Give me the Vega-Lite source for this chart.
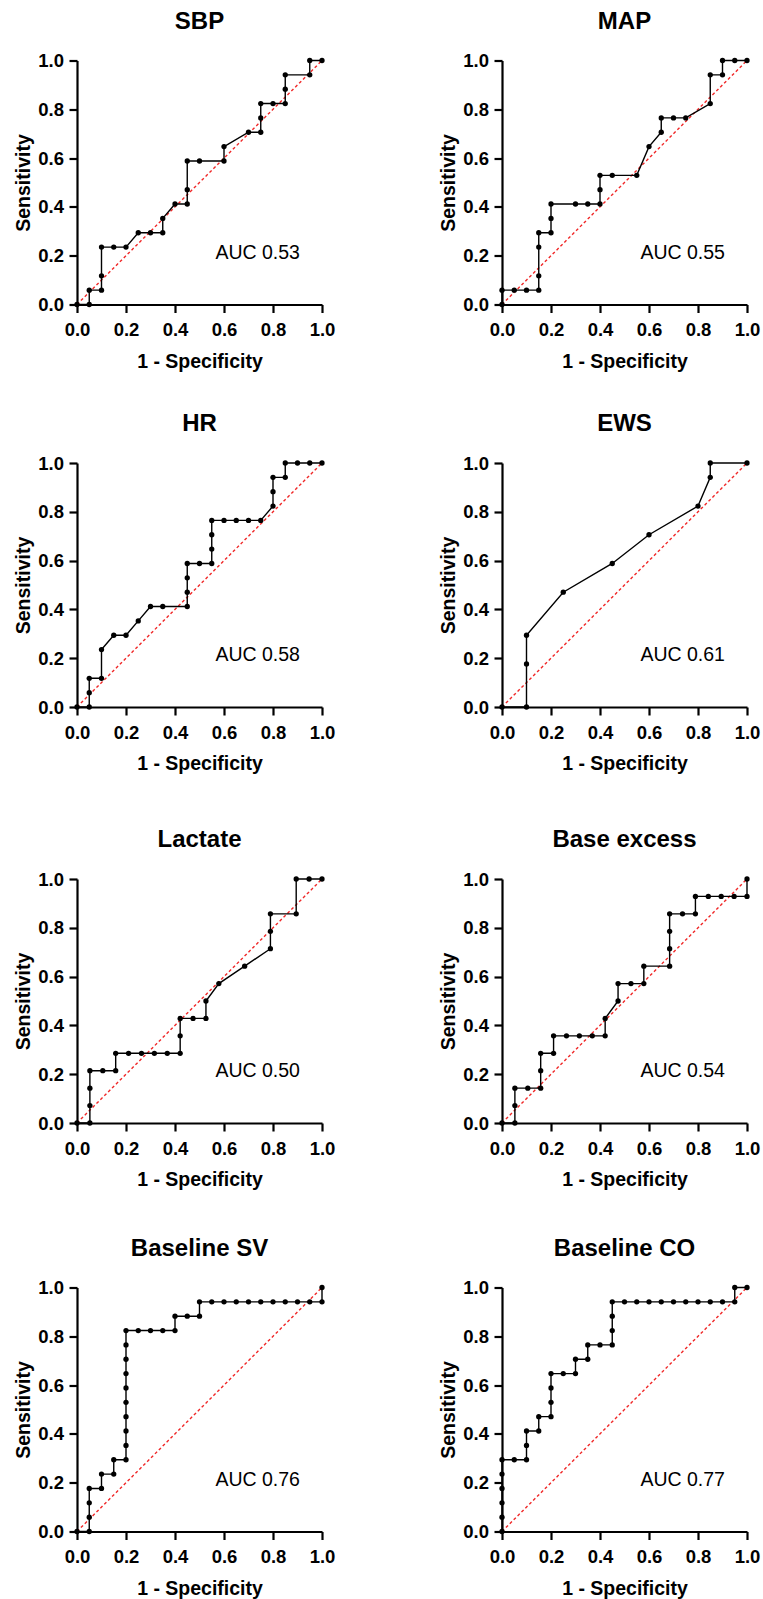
{
"$schema": "https://vega.github.io/schema/vega-lite/v6.json",
"background": "white",
"padding": {"left": 13, "top": 9.5, "right": 5, "bottom": 4},
"datasets": {
"diag": [{"x": 0, "y": 0}, {"x": 1, "y": 1}],
"auc": [
{"p": "SBP", "x": 0.565, "y": 0.213, "label": "AUC 0.53"},
{"p": "MAP", "x": 0.565, "y": 0.213, "label": "AUC 0.55"},
{"p": "HR", "x": 0.565, "y": 0.213, "label": "AUC 0.58"},
{"p": "EWS", "x": 0.565, "y": 0.213, "label": "AUC 0.61"},
{"p": "Lactate", "x": 0.565, "y": 0.213, "label": "AUC 0.50"},
{"p": "Base excess", "x": 0.565, "y": 0.213, "label": "AUC 0.54"},
{"p": "Baseline SV", "x": 0.565, "y": 0.213, "label": "AUC 0.76"},
{"p": "Baseline CO", "x": 0.565, "y": 0.213, "label": "AUC 0.77"}
],
"roc": [
{"p":"SBP","x":0,"y":0},{"p":"SBP","x":0.05,"y":0},{"p":"SBP","x":0.05,"y":0.0588},{"p":"SBP","x":0.1,"y":0.0588},{"p":"SBP","x":0.1,"y":0.1176},{"p":"SBP","x":0.1,"y":0.2353},{"p":"SBP","x":0.15,"y":0.2353},{"p":"SBP","x":0.2,"y":0.2353},{"p":"SBP","x":0.25,"y":0.2941},{"p":"SBP","x":0.3,"y":0.2941},{"p":"SBP","x":0.35,"y":0.2941},{"p":"SBP","x":0.35,"y":0.3529},{"p":"SBP","x":0.4,"y":0.4118},{"p":"SBP","x":0.45,"y":0.4118},{"p":"SBP","x":0.45,"y":0.4706},{"p":"SBP","x":0.45,"y":0.5882},{"p":"SBP","x":0.5,"y":0.5882},{"p":"SBP","x":0.6,"y":0.5882},{"p":"SBP","x":0.6,"y":0.6471},{"p":"SBP","x":0.7,"y":0.7059},{"p":"SBP","x":0.75,"y":0.7059},{"p":"SBP","x":0.75,"y":0.7647},{"p":"SBP","x":0.75,"y":0.8235},{"p":"SBP","x":0.8,"y":0.8235},{"p":"SBP","x":0.85,"y":0.8235},{"p":"SBP","x":0.85,"y":0.8824},{"p":"SBP","x":0.85,"y":0.9412},{"p":"SBP","x":0.95,"y":0.9412},{"p":"SBP","x":0.95,"y":1},{"p":"SBP","x":1,"y":1},
{"p":"MAP","x":0,"y":0},{"p":"MAP","x":0,"y":0.0588},{"p":"MAP","x":0.05,"y":0.0588},{"p":"MAP","x":0.1,"y":0.0588},{"p":"MAP","x":0.15,"y":0.0588},{"p":"MAP","x":0.15,"y":0.1176},{"p":"MAP","x":0.15,"y":0.2353},{"p":"MAP","x":0.15,"y":0.2941},{"p":"MAP","x":0.2,"y":0.2941},{"p":"MAP","x":0.2,"y":0.3529},{"p":"MAP","x":0.2,"y":0.4118},{"p":"MAP","x":0.3,"y":0.4118},{"p":"MAP","x":0.35,"y":0.4118},{"p":"MAP","x":0.4,"y":0.4118},{"p":"MAP","x":0.4,"y":0.4706},{"p":"MAP","x":0.4,"y":0.5294},{"p":"MAP","x":0.45,"y":0.5294},{"p":"MAP","x":0.55,"y":0.5294},{"p":"MAP","x":0.6,"y":0.6471},{"p":"MAP","x":0.65,"y":0.7059},{"p":"MAP","x":0.65,"y":0.7647},{"p":"MAP","x":0.7,"y":0.7647},{"p":"MAP","x":0.75,"y":0.7647},{"p":"MAP","x":0.85,"y":0.8235},{"p":"MAP","x":0.85,"y":0.9412},{"p":"MAP","x":0.9,"y":0.9412},{"p":"MAP","x":0.9,"y":1},{"p":"MAP","x":0.95,"y":1},{"p":"MAP","x":1,"y":1},
{"p":"HR","x":0,"y":0},{"p":"HR","x":0.05,"y":0},{"p":"HR","x":0.05,"y":0.0588},{"p":"HR","x":0.05,"y":0.1176},{"p":"HR","x":0.1,"y":0.1176},{"p":"HR","x":0.1,"y":0.2353},{"p":"HR","x":0.15,"y":0.2941},{"p":"HR","x":0.2,"y":0.2941},{"p":"HR","x":0.25,"y":0.3529},{"p":"HR","x":0.3,"y":0.4118},{"p":"HR","x":0.35,"y":0.4118},{"p":"HR","x":0.45,"y":0.4118},{"p":"HR","x":0.45,"y":0.4706},{"p":"HR","x":0.45,"y":0.5294},{"p":"HR","x":0.45,"y":0.5882},{"p":"HR","x":0.5,"y":0.5882},{"p":"HR","x":0.55,"y":0.5882},{"p":"HR","x":0.55,"y":0.6471},{"p":"HR","x":0.55,"y":0.7059},{"p":"HR","x":0.55,"y":0.7647},{"p":"HR","x":0.6,"y":0.7647},{"p":"HR","x":0.65,"y":0.7647},{"p":"HR","x":0.7,"y":0.7647},{"p":"HR","x":0.75,"y":0.7647},{"p":"HR","x":0.8,"y":0.8235},{"p":"HR","x":0.8,"y":0.8824},{"p":"HR","x":0.8,"y":0.9412},{"p":"HR","x":0.85,"y":0.9412},{"p":"HR","x":0.85,"y":1},{"p":"HR","x":0.9,"y":1},{"p":"HR","x":0.95,"y":1},{"p":"HR","x":1,"y":1},
{"p":"EWS","x":0,"y":0},{"p":"EWS","x":0.1,"y":0},{"p":"EWS","x":0.1,"y":0.1765},{"p":"EWS","x":0.1,"y":0.2941},{"p":"EWS","x":0.25,"y":0.4706},{"p":"EWS","x":0.45,"y":0.5882},{"p":"EWS","x":0.6,"y":0.7059},{"p":"EWS","x":0.8,"y":0.8235},{"p":"EWS","x":0.85,"y":0.9412},{"p":"EWS","x":0.85,"y":1},{"p":"EWS","x":1,"y":1},
{"p":"Lactate","x":0,"y":0},{"p":"Lactate","x":0.0526,"y":0},{"p":"Lactate","x":0.0526,"y":0.0714},{"p":"Lactate","x":0.0526,"y":0.1429},{"p":"Lactate","x":0.0526,"y":0.2143},{"p":"Lactate","x":0.1053,"y":0.2143},{"p":"Lactate","x":0.1579,"y":0.2143},{"p":"Lactate","x":0.1579,"y":0.2857},{"p":"Lactate","x":0.2105,"y":0.2857},{"p":"Lactate","x":0.2632,"y":0.2857},{"p":"Lactate","x":0.3158,"y":0.2857},{"p":"Lactate","x":0.3684,"y":0.2857},{"p":"Lactate","x":0.4211,"y":0.2857},{"p":"Lactate","x":0.4211,"y":0.3571},{"p":"Lactate","x":0.4211,"y":0.4286},{"p":"Lactate","x":0.4737,"y":0.4286},{"p":"Lactate","x":0.5263,"y":0.4286},{"p":"Lactate","x":0.5263,"y":0.5},{"p":"Lactate","x":0.5789,"y":0.5714},{"p":"Lactate","x":0.6842,"y":0.6429},{"p":"Lactate","x":0.7895,"y":0.7143},{"p":"Lactate","x":0.7895,"y":0.7857},{"p":"Lactate","x":0.7895,"y":0.8571},{"p":"Lactate","x":0.8947,"y":0.8571},{"p":"Lactate","x":0.8947,"y":1},{"p":"Lactate","x":0.9474,"y":1},{"p":"Lactate","x":1,"y":1},
{"p":"Base excess","x":0,"y":0},{"p":"Base excess","x":0.0526,"y":0},{"p":"Base excess","x":0.0526,"y":0.0714},{"p":"Base excess","x":0.0526,"y":0.1429},{"p":"Base excess","x":0.1053,"y":0.1429},{"p":"Base excess","x":0.1579,"y":0.1429},{"p":"Base excess","x":0.1579,"y":0.2143},{"p":"Base excess","x":0.1579,"y":0.2857},{"p":"Base excess","x":0.2105,"y":0.2857},{"p":"Base excess","x":0.2105,"y":0.3571},{"p":"Base excess","x":0.2632,"y":0.3571},{"p":"Base excess","x":0.3158,"y":0.3571},{"p":"Base excess","x":0.3684,"y":0.3571},{"p":"Base excess","x":0.4211,"y":0.3571},{"p":"Base excess","x":0.4211,"y":0.4286},{"p":"Base excess","x":0.4737,"y":0.5},{"p":"Base excess","x":0.4737,"y":0.5714},{"p":"Base excess","x":0.5263,"y":0.5714},{"p":"Base excess","x":0.5789,"y":0.5714},{"p":"Base excess","x":0.5789,"y":0.6429},{"p":"Base excess","x":0.6842,"y":0.6429},{"p":"Base excess","x":0.6842,"y":0.7143},{"p":"Base excess","x":0.6842,"y":0.7857},{"p":"Base excess","x":0.6842,"y":0.8571},{"p":"Base excess","x":0.7368,"y":0.8571},{"p":"Base excess","x":0.7895,"y":0.8571},{"p":"Base excess","x":0.7895,"y":0.9286},{"p":"Base excess","x":0.8421,"y":0.9286},{"p":"Base excess","x":0.8947,"y":0.9286},{"p":"Base excess","x":0.9474,"y":0.9286},{"p":"Base excess","x":1,"y":0.9286},{"p":"Base excess","x":1,"y":1},
{"p":"Baseline SV","x":0,"y":0},{"p":"Baseline SV","x":0.05,"y":0},{"p":"Baseline SV","x":0.05,"y":0.0588},{"p":"Baseline SV","x":0.05,"y":0.1176},{"p":"Baseline SV","x":0.05,"y":0.1765},{"p":"Baseline SV","x":0.1,"y":0.1765},{"p":"Baseline SV","x":0.1,"y":0.2353},{"p":"Baseline SV","x":0.15,"y":0.2353},{"p":"Baseline SV","x":0.15,"y":0.2941},{"p":"Baseline SV","x":0.2,"y":0.2941},{"p":"Baseline SV","x":0.2,"y":0.3529},{"p":"Baseline SV","x":0.2,"y":0.4118},{"p":"Baseline SV","x":0.2,"y":0.4706},{"p":"Baseline SV","x":0.2,"y":0.5294},{"p":"Baseline SV","x":0.2,"y":0.5882},{"p":"Baseline SV","x":0.2,"y":0.6471},{"p":"Baseline SV","x":0.2,"y":0.7059},{"p":"Baseline SV","x":0.2,"y":0.7647},{"p":"Baseline SV","x":0.2,"y":0.8235},{"p":"Baseline SV","x":0.25,"y":0.8235},{"p":"Baseline SV","x":0.3,"y":0.8235},{"p":"Baseline SV","x":0.35,"y":0.8235},{"p":"Baseline SV","x":0.4,"y":0.8235},{"p":"Baseline SV","x":0.4,"y":0.8824},{"p":"Baseline SV","x":0.45,"y":0.8824},{"p":"Baseline SV","x":0.5,"y":0.8824},{"p":"Baseline SV","x":0.5,"y":0.9412},{"p":"Baseline SV","x":0.55,"y":0.9412},{"p":"Baseline SV","x":0.6,"y":0.9412},{"p":"Baseline SV","x":0.65,"y":0.9412},{"p":"Baseline SV","x":0.7,"y":0.9412},{"p":"Baseline SV","x":0.75,"y":0.9412},{"p":"Baseline SV","x":0.8,"y":0.9412},{"p":"Baseline SV","x":0.85,"y":0.9412},{"p":"Baseline SV","x":0.9,"y":0.9412},{"p":"Baseline SV","x":0.95,"y":0.9412},{"p":"Baseline SV","x":1,"y":0.9412},{"p":"Baseline SV","x":1,"y":1},
{"p":"Baseline CO","x":0,"y":0},{"p":"Baseline CO","x":0,"y":0.0588},{"p":"Baseline CO","x":0,"y":0.1176},{"p":"Baseline CO","x":0,"y":0.1765},{"p":"Baseline CO","x":0,"y":0.2353},{"p":"Baseline CO","x":0,"y":0.2941},{"p":"Baseline CO","x":0.05,"y":0.2941},{"p":"Baseline CO","x":0.1,"y":0.2941},{"p":"Baseline CO","x":0.1,"y":0.3529},{"p":"Baseline CO","x":0.1,"y":0.4118},{"p":"Baseline CO","x":0.15,"y":0.4118},{"p":"Baseline CO","x":0.15,"y":0.4706},{"p":"Baseline CO","x":0.2,"y":0.4706},{"p":"Baseline CO","x":0.2,"y":0.5294},{"p":"Baseline CO","x":0.2,"y":0.5882},{"p":"Baseline CO","x":0.2,"y":0.6471},{"p":"Baseline CO","x":0.25,"y":0.6471},{"p":"Baseline CO","x":0.3,"y":0.6471},{"p":"Baseline CO","x":0.3,"y":0.7059},{"p":"Baseline CO","x":0.35,"y":0.7059},{"p":"Baseline CO","x":0.35,"y":0.7647},{"p":"Baseline CO","x":0.4,"y":0.7647},{"p":"Baseline CO","x":0.45,"y":0.7647},{"p":"Baseline CO","x":0.45,"y":0.8235},{"p":"Baseline CO","x":0.45,"y":0.8824},{"p":"Baseline CO","x":0.45,"y":0.9412},{"p":"Baseline CO","x":0.5,"y":0.9412},{"p":"Baseline CO","x":0.55,"y":0.9412},{"p":"Baseline CO","x":0.6,"y":0.9412},{"p":"Baseline CO","x":0.65,"y":0.9412},{"p":"Baseline CO","x":0.7,"y":0.9412},{"p":"Baseline CO","x":0.75,"y":0.9412},{"p":"Baseline CO","x":0.8,"y":0.9412},{"p":"Baseline CO","x":0.85,"y":0.9412},{"p":"Baseline CO","x":0.9,"y":0.9412},{"p":"Baseline CO","x":0.95,"y":0.9412},{"p":"Baseline CO","x":0.95,"y":1},{"p":"Baseline CO","x":1,"y":1}
]
},
"vconcat": [
{"vconcat": [
{"hconcat": [
{"title": "SBP", "width": 245, "height": 244,
"encoding": {"x": {"field": "x", "type": "quantitative", "scale": {"domain": [0, 1], "nice": false, "zero": true}, "axis": {"values": [0, 0.2, 0.4, 0.6, 0.8, 1], "format": ".1f", "title": "1 - Specificity"}}, "y": {"field": "y", "type": "quantitative", "scale": {"domain": [0, 1], "nice": false, "zero": true}, "axis": {"values": [0, 0.2, 0.4, 0.6, 0.8, 1], "format": ".1f", "title": "Sensitivity"}}},
"layer": [
{"data": {"name": "diag"}, "mark": {"type": "line", "color": "#f02828", "strokeWidth": 1.4, "strokeDash": [3, 2.5]}, "encoding": {}},
{"data": {"name": "roc"}, "transform": [{"filter": "datum.p === 'SBP'"}], "mark": {"type": "line", "color": "black", "strokeWidth": 1.4}, "encoding": {"order": [{"field": "x", "type": "quantitative"}, {"field": "y", "type": "quantitative"}]}},
{"data": {"name": "roc"}, "transform": [{"filter": "datum.p === 'SBP'"}], "mark": {"type": "circle", "color": "black", "size": 28, "opacity": 1}},
{"data": {"name": "auc"}, "transform": [{"filter": "datum.p === 'SBP'"}], "mark": {"type": "text", "align": "left", "baseline": "middle", "fontSize": 19.5, "color": "black"}, "encoding": {"text": {"field": "label"}}}
]},
{"title": "MAP", "width": 245, "height": 244,
"encoding": {"x": {"field": "x", "type": "quantitative", "scale": {"domain": [0, 1], "nice": false, "zero": true}, "axis": {"values": [0, 0.2, 0.4, 0.6, 0.8, 1], "format": ".1f", "title": "1 - Specificity"}}, "y": {"field": "y", "type": "quantitative", "scale": {"domain": [0, 1], "nice": false, "zero": true}, "axis": {"values": [0, 0.2, 0.4, 0.6, 0.8, 1], "format": ".1f", "title": "Sensitivity"}}},
"layer": [
{"data": {"name": "diag"}, "mark": {"type": "line", "color": "#f02828", "strokeWidth": 1.4, "strokeDash": [3, 2.5]}, "encoding": {}},
{"data": {"name": "roc"}, "transform": [{"filter": "datum.p === 'MAP'"}], "mark": {"type": "line", "color": "black", "strokeWidth": 1.4}, "encoding": {"order": [{"field": "x", "type": "quantitative"}, {"field": "y", "type": "quantitative"}]}},
{"data": {"name": "roc"}, "transform": [{"filter": "datum.p === 'MAP'"}], "mark": {"type": "circle", "color": "black", "size": 28, "opacity": 1}},
{"data": {"name": "auc"}, "transform": [{"filter": "datum.p === 'MAP'"}], "mark": {"type": "text", "align": "left", "baseline": "middle", "fontSize": 19.5, "color": "black"}, "encoding": {"text": {"field": "label"}}}
]}
]},
{"hconcat": [
{"title": "HR", "width": 245, "height": 244,
"encoding": {"x": {"field": "x", "type": "quantitative", "scale": {"domain": [0, 1], "nice": false, "zero": true}, "axis": {"values": [0, 0.2, 0.4, 0.6, 0.8, 1], "format": ".1f", "title": "1 - Specificity"}}, "y": {"field": "y", "type": "quantitative", "scale": {"domain": [0, 1], "nice": false, "zero": true}, "axis": {"values": [0, 0.2, 0.4, 0.6, 0.8, 1], "format": ".1f", "title": "Sensitivity"}}},
"layer": [
{"data": {"name": "diag"}, "mark": {"type": "line", "color": "#f02828", "strokeWidth": 1.4, "strokeDash": [3, 2.5]}, "encoding": {}},
{"data": {"name": "roc"}, "transform": [{"filter": "datum.p === 'HR'"}], "mark": {"type": "line", "color": "black", "strokeWidth": 1.4}, "encoding": {"order": [{"field": "x", "type": "quantitative"}, {"field": "y", "type": "quantitative"}]}},
{"data": {"name": "roc"}, "transform": [{"filter": "datum.p === 'HR'"}], "mark": {"type": "circle", "color": "black", "size": 28, "opacity": 1}},
{"data": {"name": "auc"}, "transform": [{"filter": "datum.p === 'HR'"}], "mark": {"type": "text", "align": "left", "baseline": "middle", "fontSize": 19.5, "color": "black"}, "encoding": {"text": {"field": "label"}}}
]},
{"title": "EWS", "width": 245, "height": 244,
"encoding": {"x": {"field": "x", "type": "quantitative", "scale": {"domain": [0, 1], "nice": false, "zero": true}, "axis": {"values": [0, 0.2, 0.4, 0.6, 0.8, 1], "format": ".1f", "title": "1 - Specificity"}}, "y": {"field": "y", "type": "quantitative", "scale": {"domain": [0, 1], "nice": false, "zero": true}, "axis": {"values": [0, 0.2, 0.4, 0.6, 0.8, 1], "format": ".1f", "title": "Sensitivity"}}},
"layer": [
{"data": {"name": "diag"}, "mark": {"type": "line", "color": "#f02828", "strokeWidth": 1.4, "strokeDash": [3, 2.5]}, "encoding": {}},
{"data": {"name": "roc"}, "transform": [{"filter": "datum.p === 'EWS'"}], "mark": {"type": "line", "color": "black", "strokeWidth": 1.4}, "encoding": {"order": [{"field": "x", "type": "quantitative"}, {"field": "y", "type": "quantitative"}]}},
{"data": {"name": "roc"}, "transform": [{"filter": "datum.p === 'EWS'"}], "mark": {"type": "circle", "color": "black", "size": 28, "opacity": 1}},
{"data": {"name": "auc"}, "transform": [{"filter": "datum.p === 'EWS'"}], "mark": {"type": "text", "align": "left", "baseline": "middle", "fontSize": 19.5, "color": "black"}, "encoding": {"text": {"field": "label"}}}
]}
]}
], "spacing": 41.5},
{"vconcat": [
{"hconcat": [
{"title": "Lactate", "width": 245, "height": 244,
"encoding": {"x": {"field": "x", "type": "quantitative", "scale": {"domain": [0, 1], "nice": false, "zero": true}, "axis": {"values": [0, 0.2, 0.4, 0.6, 0.8, 1], "format": ".1f", "title": "1 - Specificity"}}, "y": {"field": "y", "type": "quantitative", "scale": {"domain": [0, 1], "nice": false, "zero": true}, "axis": {"values": [0, 0.2, 0.4, 0.6, 0.8, 1], "format": ".1f", "title": "Sensitivity"}}},
"layer": [
{"data": {"name": "diag"}, "mark": {"type": "line", "color": "#f02828", "strokeWidth": 1.4, "strokeDash": [3, 2.5]}, "encoding": {}},
{"data": {"name": "roc"}, "transform": [{"filter": "datum.p === 'Lactate'"}], "mark": {"type": "line", "color": "black", "strokeWidth": 1.4}, "encoding": {"order": [{"field": "x", "type": "quantitative"}, {"field": "y", "type": "quantitative"}]}},
{"data": {"name": "roc"}, "transform": [{"filter": "datum.p === 'Lactate'"}], "mark": {"type": "circle", "color": "black", "size": 28, "opacity": 1}},
{"data": {"name": "auc"}, "transform": [{"filter": "datum.p === 'Lactate'"}], "mark": {"type": "text", "align": "left", "baseline": "middle", "fontSize": 19.5, "color": "black"}, "encoding": {"text": {"field": "label"}}}
]},
{"title": "Base excess", "width": 245, "height": 244,
"encoding": {"x": {"field": "x", "type": "quantitative", "scale": {"domain": [0, 1], "nice": false, "zero": true}, "axis": {"values": [0, 0.2, 0.4, 0.6, 0.8, 1], "format": ".1f", "title": "1 - Specificity"}}, "y": {"field": "y", "type": "quantitative", "scale": {"domain": [0, 1], "nice": false, "zero": true}, "axis": {"values": [0, 0.2, 0.4, 0.6, 0.8, 1], "format": ".1f", "title": "Sensitivity"}}},
"layer": [
{"data": {"name": "diag"}, "mark": {"type": "line", "color": "#f02828", "strokeWidth": 1.4, "strokeDash": [3, 2.5]}, "encoding": {}},
{"data": {"name": "roc"}, "transform": [{"filter": "datum.p === 'Base excess'"}], "mark": {"type": "line", "color": "black", "strokeWidth": 1.4}, "encoding": {"order": [{"field": "x", "type": "quantitative"}, {"field": "y", "type": "quantitative"}]}},
{"data": {"name": "roc"}, "transform": [{"filter": "datum.p === 'Base excess'"}], "mark": {"type": "circle", "color": "black", "size": 28, "opacity": 1}},
{"data": {"name": "auc"}, "transform": [{"filter": "datum.p === 'Base excess'"}], "mark": {"type": "text", "align": "left", "baseline": "middle", "fontSize": 19.5, "color": "black"}, "encoding": {"text": {"field": "label"}}}
]}
]},
{"hconcat": [
{"title": "Baseline SV", "width": 245, "height": 244,
"encoding": {"x": {"field": "x", "type": "quantitative", "scale": {"domain": [0, 1], "nice": false, "zero": true}, "axis": {"values": [0, 0.2, 0.4, 0.6, 0.8, 1], "format": ".1f", "title": "1 - Specificity"}}, "y": {"field": "y", "type": "quantitative", "scale": {"domain": [0, 1], "nice": false, "zero": true}, "axis": {"values": [0, 0.2, 0.4, 0.6, 0.8, 1], "format": ".1f", "title": "Sensitivity"}}},
"layer": [
{"data": {"name": "diag"}, "mark": {"type": "line", "color": "#f02828", "strokeWidth": 1.4, "strokeDash": [3, 2.5]}, "encoding": {}},
{"data": {"name": "roc"}, "transform": [{"filter": "datum.p === 'Baseline SV'"}], "mark": {"type": "line", "color": "black", "strokeWidth": 1.4}, "encoding": {"order": [{"field": "x", "type": "quantitative"}, {"field": "y", "type": "quantitative"}]}},
{"data": {"name": "roc"}, "transform": [{"filter": "datum.p === 'Baseline SV'"}], "mark": {"type": "circle", "color": "black", "size": 28, "opacity": 1}},
{"data": {"name": "auc"}, "transform": [{"filter": "datum.p === 'Baseline SV'"}], "mark": {"type": "text", "align": "left", "baseline": "middle", "fontSize": 19.5, "color": "black"}, "encoding": {"text": {"field": "label"}}}
]},
{"title": "Baseline CO", "width": 245, "height": 244,
"encoding": {"x": {"field": "x", "type": "quantitative", "scale": {"domain": [0, 1], "nice": false, "zero": true}, "axis": {"values": [0, 0.2, 0.4, 0.6, 0.8, 1], "format": ".1f", "title": "1 - Specificity"}}, "y": {"field": "y", "type": "quantitative", "scale": {"domain": [0, 1], "nice": false, "zero": true}, "axis": {"values": [0, 0.2, 0.4, 0.6, 0.8, 1], "format": ".1f", "title": "Sensitivity"}}},
"layer": [
{"data": {"name": "diag"}, "mark": {"type": "line", "color": "#f02828", "strokeWidth": 1.4, "strokeDash": [3, 2.5]}, "encoding": {}},
{"data": {"name": "roc"}, "transform": [{"filter": "datum.p === 'Baseline CO'"}], "mark": {"type": "line", "color": "black", "strokeWidth": 1.4}, "encoding": {"order": [{"field": "x", "type": "quantitative"}, {"field": "y", "type": "quantitative"}]}},
{"data": {"name": "roc"}, "transform": [{"filter": "datum.p === 'Baseline CO'"}], "mark": {"type": "circle", "color": "black", "size": 28, "opacity": 1}},
{"data": {"name": "auc"}, "transform": [{"filter": "datum.p === 'Baseline CO'"}], "mark": {"type": "text", "align": "left", "baseline": "middle", "fontSize": 19.5, "color": "black"}, "encoding": {"text": {"field": "label"}}}
]}
]}
], "spacing": 47.5}
],
"spacing": 54.5,
"config": {
"font": "Liberation Sans",
"view": {"stroke": null},
"concat": {"spacing": 103},
"title": {"fontSize": 24, "fontWeight": "bold", "color": "black", "offset": 18, "anchor": "middle"},
"axis": {"grid": false, "domainColor": "black", "domainWidth": 2.2, "tickColor": "black", "tickWidth": 2.2, "tickSize": 8, "labelFontSize": 18.5, "labelFontWeight": "bold", "labelColor": "black", "labelFlush": false, "labelOverlap": false, "titleFontSize": 19.5, "titleFontWeight": "bold", "titleColor": "black"},
"axisX": {"labelPadding": 8, "titlePadding": 13},
"axisY": {"labelPadding": 5.5, "titlePadding": 4}
}
}
